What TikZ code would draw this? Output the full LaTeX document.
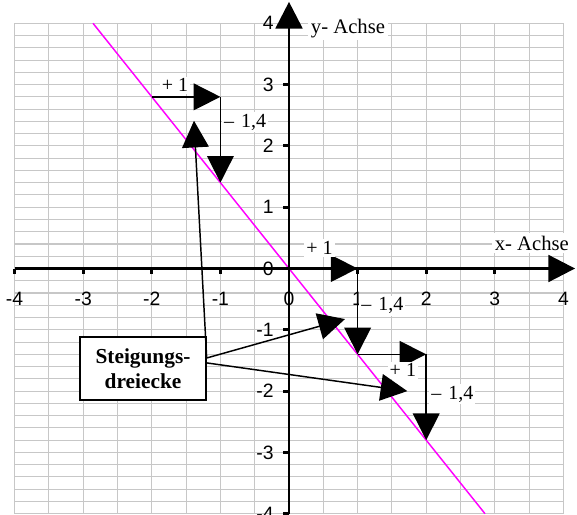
\documentclass[tikz,border=0pt]{standalone}
\usepackage{fontspec}
\setmainfont{Liberation Serif}
\setsansfont{Liberation Sans}
\usetikzlibrary{arrows.meta}
\definecolor{graphmag}{RGB}{255,0,255}
\begin{document}
\begin{tikzpicture}[x=51.45pt,y=45.975pt,
  gridline/.style={draw=black!22,line width=0.8pt},
  axisline/.style={line width=2.2pt,-{Triangle[length=20pt,width=20pt]}},
  tickline/.style={line width=2.2pt},
  legarrow/.style={line width=1.1pt,-{Triangle[length=20pt,width=20pt]}},
  calloutline/.style={line width=1.1pt,-{Triangle[length=20pt,width=20pt]}},
  ticklabel/.style={font=\sffamily\fontsize{14.5}{16}\selectfont,inner sep=0pt},
  steplabel/.style={font=\fontsize{15}{17}\selectfont,fill=white,inner sep=1.5pt},
  axistitle/.style={font=\fontsize{15.5}{17}\selectfont,fill=white,inner sep=2pt},
  calloutbox/.style={draw,fill=white,line width=1.1pt,minimum width=94.5pt,minimum height=47.25pt,align=center,font=\bfseries\fontsize{16}{18.75}\selectfont}]
\useasboundingbox (-4.2128,-4.005) rectangle (4.198,4.380);
% grid
\foreach \gx in {-4,-3.5,...,4} \draw[gridline] (\gx,-4) -- (\gx,4);
\foreach \gy in {-4,-3.8,...,4.01} \draw[gridline] (-4,\gy) -- (4,\gy);
% graph line y = -1.4 x
\coordinate (ltop) at (-2.857,4);
\coordinate (lbot) at (2.857,-4);
\draw[graphmag,line width=1.1pt] (ltop) -- (lbot);
% tick labels
\foreach \k in {-4,-3,-2,-1,0,1,2,3,4} {
  \node[ticklabel] (xl\k) at (\k,-0.5) {\k};
  \node[ticklabel,anchor=east] (yl\k) at (-0.22,\k) {\k};
}
% ticks
\foreach \k in {-4,-3,-2,-1,1,2,3} \draw[tickline] (\k,0) -- (\k,-0.09);
\foreach \k in {-4,-3,-2,-1,1,2,3} \draw[tickline] (0,\k) -- (-0.09,\k);
% axes
\coordinate (xs) at (-4,0);
\coordinate (xe) at (4.17,0);
\coordinate (ys) at (0,-4);
\coordinate (ye) at (0,4.35);
\draw[axisline] (xs) -- (xe);
\draw[axisline] (ys) -- (ye);
\node[axistitle] (xt) at (3.54,0.41) {x- Achse};
\node[axistitle] (yt) at (0.86,3.92) {y- Achse};
% slope triangles
\coordinate (a1) at (-2,2.8);
\coordinate (b1) at (-1,2.8);
\coordinate (c1) at (-1,1.4);
\coordinate (a2) at (0,0);
\coordinate (b2) at (1,0);
\coordinate (c2) at (1,-1.4);
\coordinate (a3) at (1,-1.4);
\coordinate (b3) at (2,-1.4);
\coordinate (c3) at (2,-2.8);
\draw[legarrow] (a1) -- (b1);
\draw[legarrow] (b1) -- (c1);
\draw[legarrow] (a2) -- (b2);
\draw[legarrow] (b2) -- (c2);
\draw[legarrow] (a3) -- (b3);
\draw[legarrow] (b3) -- (c3);
\node[steplabel] (p1) at (-1.66,2.99) {+ 1};
\node[steplabel] (m1) at (-0.64,2.39) {–\hspace{1.5pt} 1,4};
\node[steplabel] (p2) at (0.445,0.334) {+ 1};
\node[steplabel] (m2) at (1.36,-0.61) {–\hspace{1.5pt} 1,4};
\node[steplabel] (p3) at (1.66,-1.66) {+ 1};
\node[steplabel] (m3) at (2.38,-2.05) {–\hspace{1.5pt} 1,4};
% callout
\node[calloutbox] (box) at (-2.128,-1.635) {Steigungs-\\dreiecke};
\coordinate (s1) at (-1.20,-1.46);
\coordinate (s3) at (-1.20,-1.54);
\coordinate (t1) at (-1.385,2.41);
\coordinate (t2) at (0.816,-0.825);
\coordinate (t3) at (1.725,-2.0);
\draw[calloutline] (s1) -- (t1);
\draw[calloutline] (s1) -- (t2);
\draw[calloutline] (s3) -- (t3);
\end{tikzpicture}
\end{document}
